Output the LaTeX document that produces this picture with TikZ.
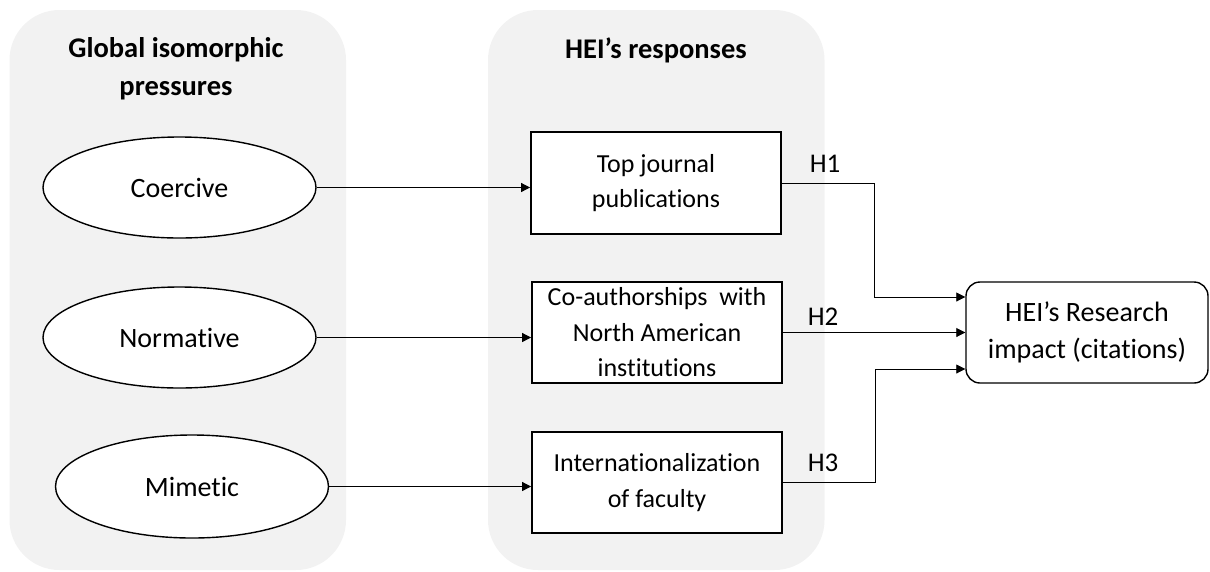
\documentclass[tikz,border=0pt]{standalone}
\usepackage{fontspec}
\setmainfont{Carlito}[Ligatures={NoCommon}]
\usetikzlibrary{shapes.geometric,arrows.meta}
\definecolor{panelgrey}{HTML}{F2F2F2}
\tikzset{
  panel/.style={fill=panelgrey,draw=none,rounded corners=50pt},
  txt/.style={font=\fontsize{28}{36}\selectfont,align=center},
  ttl/.style={font=\fontsize{28.5}{38}\selectfont\bfseries,align=center},
  pressure/.style={ellipse,draw,line width=1.4pt,fill=white,minimum width=273pt,minimum height=101pt,inner sep=0pt,txt},
  response/.style={rectangle,draw,line width=1.8pt,fill=white,minimum width=250pt,minimum height=101pt,inner sep=0pt,font=\fontsize{26}{35.5}\selectfont,align=center},
  outcome/.style={rectangle,draw,line width=1.4pt,fill=white,rounded corners=14pt,minimum width=242pt,minimum height=101pt,inner sep=0pt,font=\fontsize{28}{37}\selectfont,align=center},
  arr/.style={line width=0.8pt,-{Triangle[length=9pt,width=9pt]}},
  hlab/.style={font=\fontsize{27}{32}\selectfont}
}
\begin{document}
\begin{tikzpicture}[x=1pt,y=-1pt]
\useasboundingbox (0,0) rectangle (1210,571);
\fill[panel] (9.5,10) rectangle (346,570);
\fill[panel] (488,10) rectangle (824.5,570);
\node[ttl] (t1) at (176,69) {Global isomorphic\\pressures};
\node[ttl] (t2) at (656,50) {HEI’s responses};
\node[pressure] (coe) at (179.5,187.5) {Coercive};
\node[pressure] (nor) at (179.5,337.5) {Normative};
\node[pressure,minimum height=103pt] (mim) at (192,486.5) {Mimetic};
\node[response,minimum height=102pt] (top) at (656,183) {Top journal\\publications};
\node[response] (coa) at (657,332.5) {Co-authorships\ \ with\\North American\\institutions};
\node[response] (int) at (657,482.5) {Internationalization\\of faculty};
\node[outcome] (res) at (1087,332.5) {HEI’s Research\\impact (citations)};
\draw[arr] (coe.east) -- (coe.east -| top.west);
\draw[arr] (nor.east) -- (nor.east -| coa.west);
\draw[arr] (mim.east) -- (mim.east -| int.west);
\coordinate (r1) at ([yshift=35.5pt]res.west);
\coordinate (r3) at ([yshift=-36.5pt]res.west);
\draw[arr] (top.east) -- ++(92,0) |- (r1);
\draw[arr] (coa.east) -- (res.west);
\draw[arr] (int.east) -- ++(92,0) |- (r3);
\node[hlab] (h1) at (825,164) {H1};
\node[hlab] (h2) at (823,317) {H2};
\node[hlab] (h3) at (823,463) {H3};
\end{tikzpicture}
\end{document}
